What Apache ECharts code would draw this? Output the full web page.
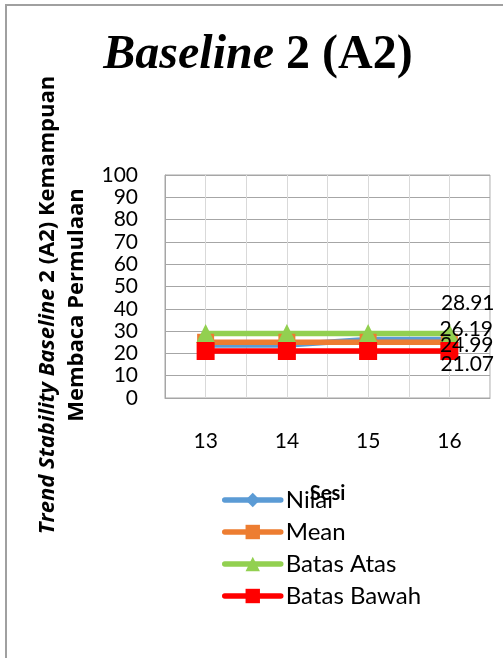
<!DOCTYPE html>
<html>
<head>
<meta charset="utf-8">
<script src="https://cdn.jsdelivr.net/npm/echarts@6/dist/echarts.min.js"></script>
<style>
html,body{margin:0;padding:0;background:#fff;}
#c{width:503px;height:658px;}
</style>
</head>
<body>
<div id="c"></div>
<script>
var sessions = [13, 14, 15, 16];
var nilai = [23.79, 23.79, 26.19, 26.19];
var mean = [24.99, 24.99, 24.99, 24.99];
var batasAtas = [28.91, 28.91, 28.91, 28.91];
var batasBawah = [21.07, 21.07, 21.07, 21.07];
var yTicks = [0, 10, 20, 30, 40, 50, 60, 70, 80, 90, 100];
var seriesNames = ['Nilai', 'Mean', 'Batas Atas', 'Batas Bawah'];
var seriesColors = ['#5b9bd5', '#ed7d31', '#92d050', '#ff0000'];

var FONT = 'Lato, "Open Sans", sans-serif';
var chart = echarts.init(document.getElementById('c'), null, {renderer: 'canvas'});

function pairs(vals, lblOffset) {
  return vals.map(function (v, i) {
    var item = {value: [sessions[i], v]};
    if (i === vals.length - 1) {
      item.label = {
        show: true, position: 'right', distance: 0, offset: lblOffset,
        formatter: function (p) { return p.value[1].toFixed(2); },
        color: '#000', fontFamily: FONT, fontSize: 21
      };
    }
    return item;
  });
}

function mkSeries(name, vals, color, symbol, size, off) {
  return {
    name: name, type: 'line', data: pairs(vals, off),
    symbol: symbol, symbolSize: size,
    lineStyle: {color: color, width: 5.5, cap: 'round'},
    itemStyle: {color: color},
    label: {show: false},
    emphasis: {disabled: true}
  };
}

var option = {
  animation: false,
  backgroundColor: '#fff',
  grid: {left: 165, top: 175, width: 325, height: 223, show: true, borderColor: '#a6a6a6', borderWidth: 1},
  xAxis: {
    type: 'value', min: 12.5, max: 16.5, interval: 0.5,
    name: 'Sesi', nameLocation: 'middle', nameGap: 86,
    nameTextStyle: {fontFamily: FONT, fontWeight: 'bold', fontSize: 20, color: '#000'},
    axisLine: {show: true, lineStyle: {color: '#a6a6a6'}},
    axisTick: {show: false},
    splitLine: {show: true, lineStyle: {color: '#d9d9d9', width: 1}},
    axisLabel: {
      margin: 33, color: '#000', fontFamily: FONT, fontSize: 21,
      formatter: function (v) { return sessions.indexOf(v) >= 0 ? String(v) : ''; }
    }
  },
  yAxis: {
    type: 'value', min: yTicks[0], max: yTicks[yTicks.length - 1], interval: 10,
    axisLine: {show: true, lineStyle: {color: '#a6a6a6'}},
    axisTick: {show: false},
    splitLine: {show: true, lineStyle: {color: '#a6a6a6', width: 1}},
    axisLabel: {margin: 27, color: '#000', fontFamily: FONT, fontSize: 21}
  },
  legend: {
    orient: 'vertical', left: 222, top: 488, padding: 0,
    itemWidth: 56, itemHeight: 18, itemGap: 8,
    textStyle: {fontFamily: FONT, fontSize: 24, color: '#000'},
    data: seriesNames.map(function (n, i) {
      return {name: n, lineStyle: {width: 5.5, color: seriesColors[i], cap: 'round'}};
    })
  },
  series: [
    mkSeries(seriesNames[0], nilai, seriesColors[0], 'diamond', 16, [-18, -10]),
    mkSeries(seriesNames[1], mean, seriesColors[1], 'rect', 17, [-18, 3]),
    mkSeries(seriesNames[2], batasAtas, seriesColors[2], 'triangle', 19, [-18, -30]),
    mkSeries(seriesNames[3], batasBawah, seriesColors[3], 'rect', 18, [-18, 13])
  ],
  graphic: [
    {type: 'rect', shape: {x: 6, y: 5, width: 600, height: 700}, style: {fill: 'none', stroke: '#a0a0a0', lineWidth: 2}, silent: true},
    {
      type: 'text', x: 258, y: 56,
      style: {
        text: '{i|Baseline}{b| 2 (A2)}',
        align: 'center', verticalAlign: 'middle',
        rich: {
          i: {fontFamily: '"Liberation Serif", "DejaVu Serif", serif', fontStyle: 'italic', fontWeight: 'bold', fontSize: 48, fill: '#000'},
          b: {fontFamily: '"Liberation Serif", "DejaVu Serif", serif', fontWeight: 'bold', fontSize: 48, fill: '#000'}
        }
      }
    },
    {
      type: 'text', x: 62, y: 305, rotation: Math.PI / 2,
      style: {
        text: '{i|Trend Stability Baseline}{b| 2 (A2) Kemampuan}\n{b|Membaca Permulaan}',
        align: 'center', verticalAlign: 'middle',
        rich: {
          i: {fontFamily: '"Open Sans", Lato, sans-serif', fontStyle: 'italic', fontWeight: 'bold', fontSize: 22, lineHeight: 29, fill: '#000'},
          b: {fontFamily: '"Open Sans", Lato, sans-serif', fontWeight: 'bold', fontSize: 22, lineHeight: 29, fill: '#000', align: 'center'}
        }
      }
    }
  ]
};
chart.setOption(option);
</script>
</body>
</html>
